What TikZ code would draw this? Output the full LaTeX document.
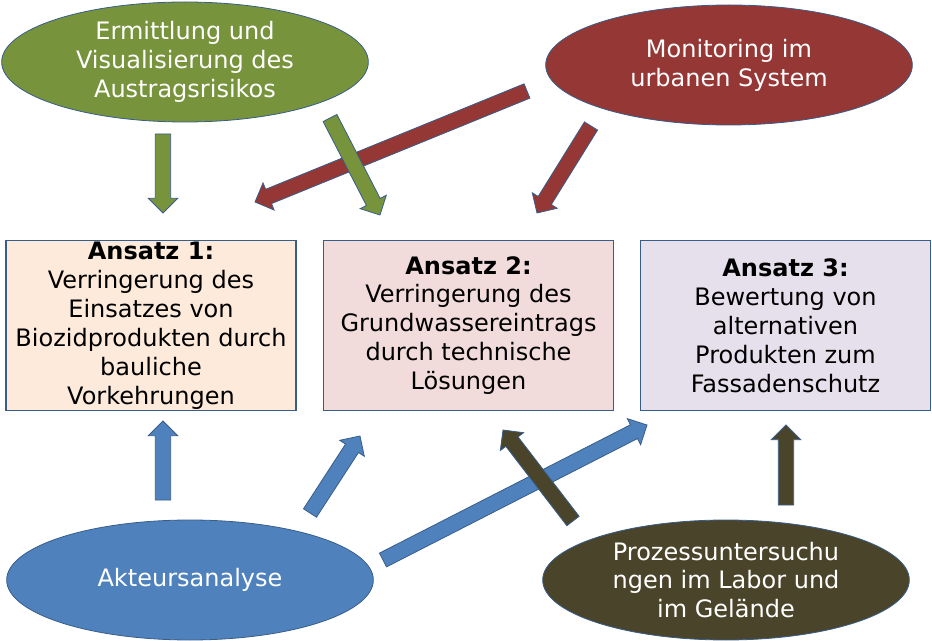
\documentclass[tikz,border=0pt]{standalone}
\usepackage{fontspec}
\setmainfont{DejaVu Sans}
\usetikzlibrary{calc, shapes.geometric}

\definecolor{frameblue}{HTML}{385D8A}
\definecolor{ovgreen}{HTML}{77933C}
\definecolor{ovred}{HTML}{953735}
\definecolor{ovblue}{HTML}{4F81BD}
\definecolor{ovdark}{HTML}{4A452A}
\definecolor{boxone}{HTML}{FDEADA}
\definecolor{boxtwo}{HTML}{F2DCDB}
\definecolor{boxthree}{HTML}{E6E0EC}

\tikzset{
	oval/.style={shape=ellipse, draw=frameblue, line width=0.6pt, minimum width=275pt, minimum height=90pt, inner sep=0pt, align=center, text=white, font=\fontsize{18}{21.7}\selectfont},
	ansatz/.style={shape=rectangle, draw=frameblue, line width=0.8pt, minimum width=217.5pt, minimum height=128pt, inner sep=0pt, align=center, font=\fontsize{18}{21.7}\selectfont},
	fat/.style={draw=frameblue, line width=0.6pt, line join=miter}
}

% block arrow: colour, tail, tip
\newcommand{\fatarrow}[3]{%
	\coordinate (fa-base) at ($(#3)!11pt!(#2)$);
	\filldraw[fat, fill=#1] ($(#2)!5.8pt!90:(#3)$) -- ($(fa-base)!5.8pt!90:(#3)$) -- ($(fa-base)!11pt!90:(#3)$) -- (#3) -- ($(fa-base)!11pt!-90:(#3)$) -- ($(fa-base)!5.8pt!-90:(#3)$) -- ($(#2)!5.8pt!-90:(#3)$) -- cycle;
}

\begin{document}
\begin{tikzpicture}[x=0.75pt, y=-0.75pt]
	\useasboundingbox (0,0) rectangle (932,641);
	% Ovals:
	\node[oval, fill=ovgreen] (ermittlung) at (185,62) {Ermittlung und\\Visualisierung des\\Austragsrisikos};
	\node[oval, fill=ovred] (monitoring) at (729,65) {Monitoring im\\urbanen System};
	\node[oval, fill=ovblue] (akteure) at (190,580) {Akteursanalyse};
	\node[oval, fill=ovdark] (prozess) at (726,580) {Prozessuntersuchu\\ngen im Labor und\\im Gelände};
	% Boxes:
	\node[ansatz, fill=boxone] (ansatz1) at (151,325.5) {\textbf{Ansatz 1:}\\Verringerung des\\Einsatzes von\\Biozidprodukten durch\\bauliche\\Vorkehrungen};
	\node[ansatz, fill=boxtwo] (ansatz2) at (468.5,325.5) {\textbf{Ansatz 2:}\\Verringerung des\\Grundwassereintrags\\durch technische\\Lösungen};
	\node[ansatz, fill=boxthree] (ansatz3) at (785.5,325.5) {\textbf{Ansatz 3:}\\Bewertung von\\alternativen\\Produkten zum\\Fassadenschutz};
	% Arrow ends:
	\coordinate (g1t) at (163,134);  \coordinate (g1h) at (163,213);
	\coordinate (g2t) at (330,118);  \coordinate (g2h) at (380,215);
	\coordinate (r1t) at (527,91);   \coordinate (r1h) at (255,202);
	\coordinate (r2t) at (591,126);  \coordinate (r2h) at (537,213);
	\coordinate (b1t) at (163,500);  \coordinate (b1h) at (163,421);
	\coordinate (b2t) at (310,513);  \coordinate (b2h) at (360,436);
	\coordinate (b3t) at (383,560);  \coordinate (b3h) at (647,425);
	\coordinate (d1t) at (573,521);  \coordinate (d1h) at (503,430);
	\coordinate (d2t) at (786,505);  \coordinate (d2h) at (786,425);
	% Arrows:
	\fatarrow{ovred}{r1t}{r1h}
	\fatarrow{ovred}{r2t}{r2h}
	\fatarrow{ovgreen}{g1t}{g1h}
	\fatarrow{ovgreen}{g2t}{g2h}
	\fatarrow{ovblue}{b1t}{b1h}
	\fatarrow{ovblue}{b2t}{b2h}
	\fatarrow{ovblue}{b3t}{b3h}
	\fatarrow{ovdark}{d1t}{d1h}
	\fatarrow{ovdark}{d2t}{d2h}
\end{tikzpicture}
\end{document}
